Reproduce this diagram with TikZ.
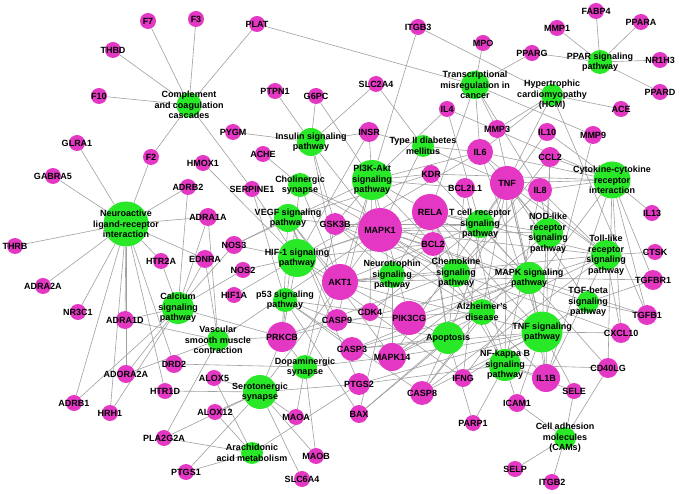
\documentclass[tikz,border=0pt]{standalone}
\usepackage{fontspec}
\setmainfont{Liberation Sans}
\definecolor{pk}{RGB}{228,56,196}
\definecolor{gr}{RGB}{40,232,40}
\definecolor{ed}{RGB}{160,160,160}
\pgfdeclarelayer{edges}
\pgfdeclarelayer{labels}
\pgfsetlayers{edges,main,labels}
\tikzset{
  gnode/.style={circle,fill=gr,inner sep=0pt},
  pnode/.style={circle,fill=pk,inner sep=0pt},
  lbl/.style={font=\fontsize{9}{10.6}\selectfont\bfseries,align=center,inner sep=0pt,text=black},
  edge/.style={draw=ed,line width=0.6pt}
}
\newcommand{\GN}[5]{\node[gnode,minimum size=#4pt] (#1) at (#2,#3) {};
  \begin{pgfonlayer}{labels}\node[lbl] (#1-t) at (#2,#3) {#5};\end{pgfonlayer}}
\newcommand{\PN}[5]{\node[pnode,minimum size=#4pt] (#1) at (#2,#3) {};
  \begin{pgfonlayer}{labels}\node[lbl] (#1-t) at (#2,#3) {#5};\end{pgfonlayer}}
\begin{document}
\begin{tikzpicture}[x=1pt,y=-1pt]
\useasboundingbox (0,0) rectangle (680,494);
\begin{pgfonlayer}{edges}
\fill[white] (0,0) rectangle (680,494);
\end{pgfonlayer}
% pathway nodes
\GN{cc}{189}{105}{25}{Complement\\and coagulation\\cascades}
\GN{tm}{475}{85}{28}{Transcriptional\\misregulation in\\cancer}
\GN{hcm}{552}{95}{22}{Hypertrophic\\cardiomyopathy\\(HCM)}
\GN{ppar}{600}{62}{24}{PPAR signaling\\pathway}
\GN{ins}{311}{142}{28}{Insulin signaling\\pathway}
\GN{t2d}{423}{146}{22}{Type II diabetes\\mellitus}
\GN{cho}{300}{185}{24}{Cholinergic\\synapse}
\GN{pi3k}{372}{180}{40}{PI3K-Akt\\signaling\\pathway}
\GN{cyt}{612}{180}{37}{Cytokine-cytokine\\receptor\\interaction}
\GN{nli}{126}{224}{45}{Neuroactive\\ligand-receptor\\interaction}
\GN{vegf}{288}{218}{28}{VEGF signaling\\pathway}
\GN{tcr}{480}{224}{28}{T cell receptor\\signaling\\pathway}
\GN{nod}{548}{233}{30}{NOD-like\\receptor\\signaling\\pathway}
\GN{hif}{297}{258}{38}{HIF-1 signaling\\pathway}
\GN{tlr}{606}{255}{30}{Toll-like\\receptor\\signaling\\pathway}
\GN{neu}{392}{275}{26}{Neurotrophin\\signaling\\pathway}
\GN{che}{456}{273}{28}{Chemokine\\signaling\\pathway}
\GN{mapk}{529}{278}{32}{MAPK signaling\\pathway}
\GN{p53}{285}{300}{24}{p53 signaling\\pathway}
\GN{cal}{178}{308}{32}{Calcium\\signaling\\pathway}
\GN{tgfb}{588}{302}{22}{TGF-beta\\signaling\\pathway}
\GN{alz}{482}{312}{26}{Alzheimer's\\disease}
\GN{vsm}{218}{340}{22}{Vascular\\smooth muscle\\contraction}
\GN{apo}{448}{338}{32}{Apoptosis}
\GN{tnfs}{542}{332}{41}{TNF signaling\\pathway}
\GN{dop}{305}{367}{24}{Dopaminergic\\synapse}
\GN{ser}{260}{392}{34}{Serotonergic\\synapse}
\GN{nfkb}{505}{365}{32}{NF-kappa B\\signaling\\pathway}
\GN{ara}{252}{453}{22}{Arachidonic\\acid metabolism}
\GN{cam}{565}{438}{22}{Cell adhesion\\molecules\\(CAMs)}
% gene nodes
\PN{f7}{148}{21}{16}{F7}
\PN{f3}{196}{19}{16}{F3}
\PN{plat}{257}{24}{16}{PLAT}
\PN{itgb3}{418}{27}{16}{ITGB3}
\PN{mpo}{483}{43}{16}{MPO}
\PN{mmp1}{557}{28}{16}{MMP1}
\PN{fabp4}{596}{11}{16}{FABP4}
\PN{ppara}{641}{22}{16}{PPARA}
\PN{pparg}{532}{53}{16}{PPARG}
\PN{nr1h3}{660}{60}{16}{NR1H3}
\PN{ppard}{660}{92}{16}{PPARD}
\PN{thbd}{113}{50}{16}{THBD}
\PN{ace}{621}{109}{16}{ACE}
\PN{f10}{99}{96}{16}{F10}
\PN{ptpn1}{275}{91}{16}{PTPN1}
\PN{g6pc}{316}{96}{16}{G6PC}
\PN{slc2a4}{376}{84}{16}{SLC2A4}
\PN{il4}{447}{109}{16}{IL4}
\PN{il10}{547}{132}{18}{IL10}
\PN{mmp9}{593}{135}{18}{MMP9}
\PN{mmp3}{497}{129}{18}{MMP3}
\PN{glra1}{77}{143}{16}{GLRA1}
\PN{pygm}{233}{132}{16}{PYGM}
\PN{insr}{369}{132}{20}{INSR}
\PN{il6}{480}{152}{26}{IL6}
\PN{ccl2}{550}{157}{20}{CCL2}
\PN{tnf}{507}{183}{34}{TNF}
\PN{il8}{540}{190}{24}{IL8}
\PN{f2}{151}{157}{16}{F2}
\PN{hmox1}{203}{163}{16}{HMOX1}
\PN{ache}{263}{154}{16}{ACHE}
\PN{serpine1}{252}{189}{16}{SERPINE1}
\PN{kdr}{431}{174}{18}{KDR}
\PN{bcl2l1}{465}{188}{20}{BCL2L1}
\PN{gabra5}{53}{176}{16}{GABRA5}
\PN{adrb2}{188}{187}{16}{ADRB2}
\PN{adra1a}{208}{217}{18}{ADRA1A}
\PN{gsk3b}{335}{224}{22}{GSK3B}
\PN{mapk1}{380}{230}{44}{MAPK1}
\PN{rela}{430}{212}{36}{RELA}
\PN{il13}{652}{213}{16}{IL13}
\PN{thrb}{15}{246}{16}{THRB}
\PN{htr2a}{161}{261}{16}{HTR2A}
\PN{ednra}{205}{259}{18}{EDNRA}
\PN{nos3}{234}{245}{18}{NOS3}
\PN{nos2}{243}{270}{16}{NOS2}
\PN{bcl2}{433}{244}{24}{BCL2}
\PN{ctsk}{655}{252}{16}{CTSK}
\PN{adra2a}{43}{286}{16}{ADRA2A}
\PN{hif1a}{234}{295}{16}{HIF1A}
\PN{akt1}{340}{282}{36}{AKT1}
\PN{tgfbr1}{653}{280}{20}{TGFBR1}
\PN{nr3c1}{78}{312}{16}{NR3C1}
\PN{adra1d}{125}{320}{18}{ADRA1D}
\PN{cdk4}{370}{312}{18}{CDK4}
\PN{casp9}{337}{320}{22}{CASP9}
\PN{pik3cg}{409}{318}{34}{PIK3CG}
\PN{tgfb1}{647}{315}{20}{TGFB1}
\PN{prkcb}{282}{337}{30}{PRKCB}
\PN{casp3}{352}{349}{24}{CASP3}
\PN{mapk14}{392}{357}{28}{MAPK14}
\PN{cxcl10}{621}{333}{20}{CXCL10}
\PN{drd2}{174}{364}{18}{DRD2}
\PN{adora2a}{126}{374}{18}{ADORA2A}
\PN{alox5}{214}{378}{16}{ALOX5}
\PN{htr1d}{165}{391}{16}{HTR1D}
\PN{ptgs2}{359}{384}{22}{PTGS2}
\PN{casp8}{422}{393}{24}{CASP8}
\PN{ifng}{463}{378}{18}{IFNG}
\PN{il1b}{546}{378}{28}{IL1B}
\PN{cd40lg}{608}{368}{20}{CD40LG}
\PN{adrb1}{74}{403}{16}{ADRB1}
\PN{hrh1}{110}{413}{16}{HRH1}
\PN{alox12}{215}{412}{16}{ALOX12}
\PN{maoa}{296}{417}{16}{MAOA}
\PN{bax}{359}{414}{18}{BAX}
\PN{sele}{574}{391}{16}{SELE}
\PN{icam1}{517}{403}{18}{ICAM1}
\PN{parp1}{473}{423}{16}{PARP1}
\PN{pla2g2a}{164}{438}{16}{PLA2G2A}
\PN{maob}{316}{456}{16}{MAOB}
\PN{ptgs1}{186}{472}{16}{PTGS1}
\PN{slc6a4}{302}{479}{16}{SLC6A4}
\PN{selp}{515}{469}{16}{SELP}
\PN{itgb2}{552}{482}{16}{ITGB2}
% edges
\begin{pgfonlayer}{edges}
\foreach \g in {f7,f3,thbd,f10,f2,plat,serpine1} \draw[edge] (cc) -- (\g);
\foreach \g in {fabp4,mmp1,ppara,pparg,nr1h3,ppard} \draw[edge] (ppar) -- (\g);
\foreach \g in {mpo,plat,pparg,il6,mmp3,mmp9,il8,rela} \draw[edge] (tm) -- (\g);
\foreach \g in {itgb3,ace,tnf,tgfb1,il6,mmp3} \draw[edge] (hcm) -- (\g);
\foreach \g in {ptpn1,g6pc,pygm,slc2a4,insr,gsk3b,akt1,mapk1} \draw[edge] (ins) -- (\g);
\foreach \g in {insr,slc2a4,tnf,mapk1,il6} \draw[edge] (t2d) -- (\g);
\foreach \g in {ache,prkcb,akt1,mapk1,bcl2} \draw[edge] (cho) -- (\g);
\foreach \g in {itgb3,g6pc,il4,insr,kdr,bcl2l1,rela,gsk3b,mapk1,akt1,bcl2,cdk4,casp9,pik3cg,il6,nos3} \draw[edge] (pi3k) -- (\g);
\foreach \g in {kdr,nos3,mapk1,akt1,prkcb,ptgs2,mapk14,casp9} \draw[edge] (vegf) -- (\g);
\foreach \g in {hif1a,nos2,nos3,hmox1,serpine1,insr,rela,mapk1,akt1,bcl2,prkcb,il6,ifng} \draw[edge] (hif) -- (\g);
\foreach \g in {casp3,casp8,casp9,bax,cdk4,serpine1} \draw[edge] (p53) -- (\g);
\foreach \g in {mapk1,akt1,gsk3b,rela,bcl2,mapk14,bax} \draw[edge] (neu) -- (\g);
\foreach \g in {ccl2,il8,cxcl10,rela,akt1,pik3cg,gsk3b,mapk1,prkcb} \draw[edge] (che) -- (\g);
\foreach \g in {tnf,il1b,mapk1,mapk14,akt1,rela,tgfbr1,tgfb1,casp3,prkcb,kdr} \draw[edge] (mapk) -- (\g);
\foreach \g in {tnf,ifng,il10,il4,cd40lg,mapk1,mapk14,akt1,rela,gsk3b,cdk4} \draw[edge] (tcr) -- (\g);
\foreach \g in {il6,il8,ccl2,tnf,il1b,mapk1,mapk14,rela,casp8} \draw[edge] (nod) -- (\g);
\foreach \g in {il6,il8,tnf,il1b,cxcl10,mapk1,mapk14,akt1,rela,casp8,pik3cg,ctsk} \draw[edge] (tlr) -- (\g);
\foreach \g in {il4,il6,il8,il10,il13,ccl2,tnf,il1b,cxcl10,cd40lg,tgfbr1,tgfb1,ifng,kdr} \draw[edge] (cyt) -- (\g);
\foreach \g in {tgfbr1,tgfb1,ifng,tnf,mapk1} \draw[edge] (tgfb) -- (\g);
\foreach \g in {tnf,il1b,gsk3b,casp3,casp8,casp9,mapk1,bax} \draw[edge] (alz) -- (\g);
\foreach \g in {tnf,bcl2,bcl2l1,casp3,casp8,casp9,bax,akt1,rela,parp1} \draw[edge] (apo) -- (\g);
\foreach \g in {tnf,il6,ccl2,il1b,cxcl10,mapk1,mapk14,akt1,rela,casp3,casp8,icam1,sele,ptgs2,mmp3,mmp9} \draw[edge] (tnfs) -- (\g);
\foreach \g in {tnf,il8,il1b,cd40lg,rela,bcl2,bcl2l1,icam1,sele,ptgs2,parp1} \draw[edge] (nfkb) -- (\g);
\foreach \g in {icam1,sele,selp,itgb2,cd40lg} \draw[edge] (cam) -- (\g);
\foreach \g in {glra1,gabra5,thrb,adra2a,nr3c1,adrb2,adra1a,htr2a,ednra,adra1d,adora2a,adrb1,hrh1,drd2,htr1d,f2} \draw[edge] (nli) -- (\g);
\foreach \g in {adrb2,adra1a,ednra,htr2a,nos3,nos2,adra1d,adora2a,adrb1,hrh1,prkcb} \draw[edge] (cal) -- (\g);
\foreach \g in {adra1a,adra1d,ednra,prkcb,pla2g2a,adora2a,mapk1} \draw[edge] (vsm) -- (\g);
\foreach \g in {htr1d,alox5,alox12,ptgs1,ptgs2,maoa,maob,slc6a4,pla2g2a,prkcb,mapk1} \draw[edge] (ser) -- (\g);
\foreach \g in {drd2,maoa,maob,prkcb,gsk3b,akt1,mapk14} \draw[edge] (dop) -- (\g);
\foreach \g in {alox5,alox12,ptgs1,ptgs2,pla2g2a} \draw[edge] (ara) -- (\g);
\end{pgfonlayer}
\end{tikzpicture}
\end{document}
